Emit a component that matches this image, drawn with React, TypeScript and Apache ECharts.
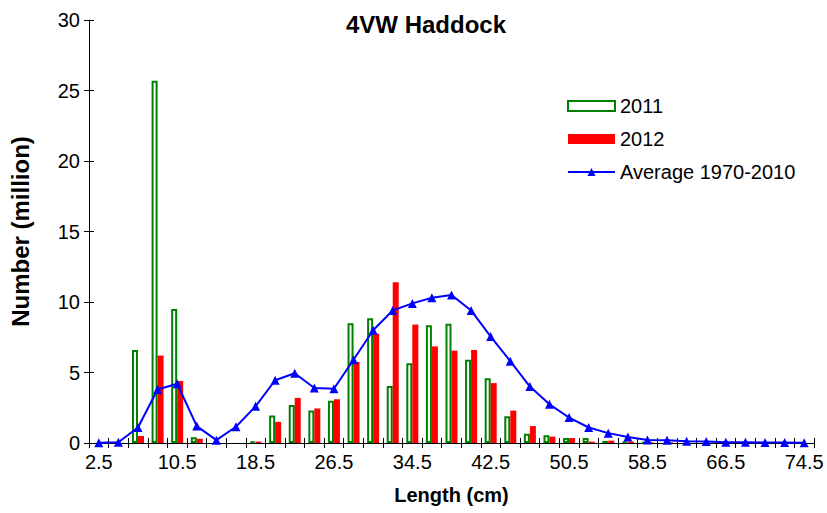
import React, { useEffect, useRef } from "react";
import * as echarts from "echarts";

const categories = [
  "2.5", "4.5", "6.5", "8.5", "10.5", "12.5", "14.5", "16.5", "18.5", "20.5",
  "22.5", "24.5", "26.5", "28.5", "30.5", "32.5", "34.5", "36.5", "38.5", "40.5",
  "42.5", "44.5", "46.5", "48.5", "50.5", "52.5", "54.5", "56.5", "58.5", "60.5",
  "62.5", "64.5", "66.5", "68.5", "70.5", "72.5", "74.5",
];

const values2011 = [
  null, null, 6.6, 25.7, 9.5, 0.4, null, null, 0.1, 1.95,
  2.7, 2.3, 3.0, 8.5, 8.85, 4.05, 5.65, 8.35, 8.45, 5.9,
  4.6, 1.9, 0.65, 0.55, 0.35, 0.35, 0.15, 0.1, 0.05, null,
  null, null, null, null, null, null, null,
];

const values2012 = [
  null, null, 0.5, 6.2, 4.4, 0.3, null, null, 0.1, 1.5,
  3.2, 2.45, 3.1, 5.75, 7.75, 11.4, 8.4, 6.85, 6.55, 6.6,
  4.25, 2.3, 1.2, 0.45, 0.35, 0.1, 0.17, 0.1, 0.05, 0.05,
  null, null, null, null, null, null, null,
];

const valuesAverage = [
  0.02, 0.05, 1.1, 3.8, 4.2, 1.2, 0.2, 1.15, 2.6, 4.45,
  4.95, 3.9, 3.85, 5.9, 8.0, 9.4, 9.9, 10.3, 10.5, 9.4,
  7.55, 5.8, 4.0, 2.75, 1.8, 1.1, 0.7, 0.42, 0.22, 0.2,
  0.12, 0.1, 0.05, 0.05, 0.04, 0.03, 0.02,
];

const yTicks = { min: 0, max: 30, interval: 5 };

const FONT = "Liberation Sans, Arial, sans-serif";

export default function App() {
  const ref = useRef<HTMLDivElement>(null);

  useEffect(() => {
    if (!ref.current) return;
    const chart = echarts.init(ref.current, undefined, { renderer: "svg" });
    const axisLineStyle = { color: "#000", width: 1 };
    chart.setOption({
      animation: false,
      backgroundColor: "#fff",
      title: {
        text: "4VW Haddock",
        left: 421,
        top: 7,
        textAlign: "center",
        textStyle: { fontFamily: FONT, fontWeight: "bold", fontSize: 24, color: "#000" },
      },
      legend: {
        orient: "vertical",
        left: 562,
        top: 91,
        itemWidth: 47,
        itemHeight: 10,
        itemGap: 13,
        textStyle: { fontFamily: FONT, fontSize: 20, color: "#000" },
        data: [
          { name: "2011", icon: "rect" },
          { name: "2012", icon: "rect" },
          { name: "Average 1970-2010" },
        ],
      },
      grid: { left: 89, right: 13, top: 20, bottom: 70 },
      xAxis: [
        {
          type: "category",
          data: categories,
          position: "bottom",
          boundaryGap: true,
          name: "Length (cm)",
          nameLocation: "middle",
          nameGap: 42,
          nameTextStyle: { fontFamily: FONT, fontWeight: "bold", fontSize: 20, color: "#000" },
          axisLine: { show: true, lineStyle: axisLineStyle },
          axisTick: { show: true, interval: 0, length: 5, inside: false, lineStyle: axisLineStyle },
          axisLabel: { interval: 3, fontFamily: FONT, fontSize: 20, color: "#000", margin: 9 },
          splitLine: { show: false },
        },
        {
          type: "category",
          data: categories,
          position: "bottom",
          boundaryGap: true,
          axisLine: { show: false },
          axisTick: { show: true, interval: 0, length: 5, inside: true, lineStyle: axisLineStyle },
          axisLabel: { show: false },
          splitLine: { show: false },
        },
      ],
      yAxis: [
        {
          type: "value",
          min: yTicks.min,
          max: yTicks.max,
          interval: yTicks.interval,
          position: "left",
          name: "Number (million)",
          nameLocation: "middle",
          nameGap: 57,
          nameTextStyle: { fontFamily: FONT, fontWeight: "bold", fontSize: 24, color: "#000" },
          axisLine: { show: true, lineStyle: axisLineStyle },
          axisTick: { show: true, length: 5, inside: false, lineStyle: axisLineStyle },
          axisLabel: { fontFamily: FONT, fontSize: 20, color: "#000", margin: 9 },
          splitLine: { show: false },
        },
        {
          type: "value",
          min: yTicks.min,
          max: yTicks.max,
          interval: yTicks.interval,
          position: "left",
          axisLine: { show: false },
          axisTick: { show: true, length: 5, inside: true, lineStyle: axisLineStyle },
          axisLabel: { show: false },
          splitLine: { show: false },
        },
      ],
      series: [
        {
          name: "2011",
          type: "bar",
          data: values2011,
          barWidth: 6,
          barGap: "0%",
          itemStyle: { color: "#fff", borderColor: "#008000", borderWidth: 2 },
          z: 2,
        },
        {
          name: "2012",
          type: "bar",
          data: values2012,
          barWidth: 6,
          barGap: "0%",
          itemStyle: { color: "#ff0000" },
          z: 2,
        },
        {
          name: "Average 1970-2010",
          type: "line",
          data: valuesAverage,
          symbol: "triangle",
          symbolSize: 9,
          lineStyle: { color: "#0000ff", width: 2 },
          itemStyle: { color: "#0000ff" },
          z: 5,
        },
      ],
    });
    return () => chart.dispose();
  }, []);

  return <div ref={ref} style={{ width: 827, height: 513, position: "absolute", left: 0, top: 0 }} />;
}
